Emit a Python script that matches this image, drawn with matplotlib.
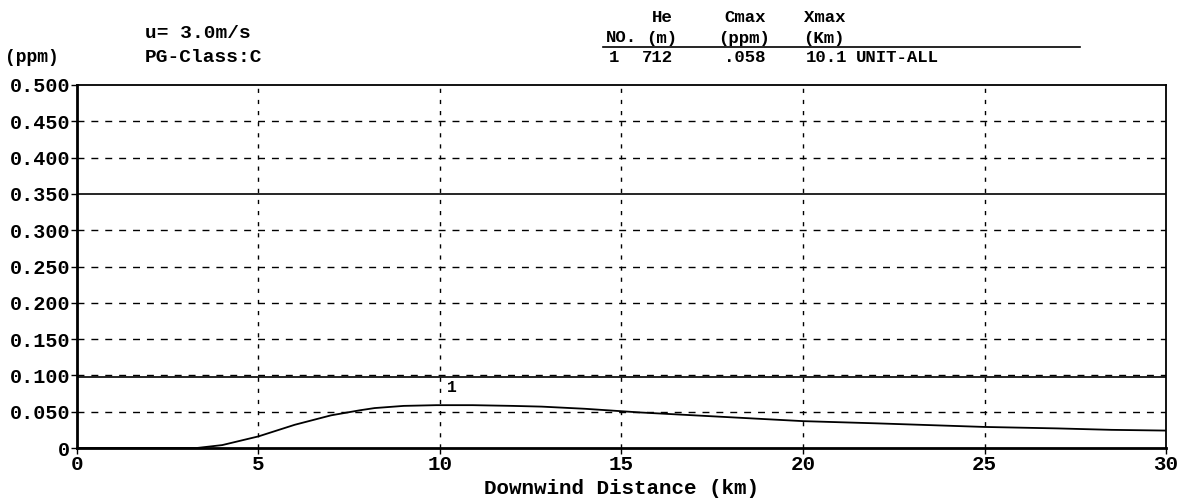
import matplotlib
matplotlib.use("Agg")
import matplotlib.pyplot as plt
import numpy as np

# Data
distance_km = [0, 1, 2, 3, 3.3, 4, 5, 6, 7, 7.8, 8.2, 9, 9.9, 10.9, 12, 12.8, 14, 14.9, 15.5, 17, 18.5, 20, 22, 23.8, 25, 27, 28.5, 30]
conc_ppm = [0, 0, 0, 0, 0, 0.004, 0.016, 0.032, 0.045, 0.052, 0.055, 0.058, 0.059, 0.059, 0.058, 0.057, 0.054, 0.051, 0.049, 0.045, 0.041, 0.037, 0.034, 0.031, 0.029, 0.027, 0.025, 0.024]
x_ticks = [0, 5, 10, 15, 20, 25, 30]
y_ticks = [0, 0.05, 0.10, 0.15, 0.20, 0.25, 0.30, 0.35, 0.40, 0.45, 0.50]
y_tick_labels = ["0", "0.050", "0.100", "0.150", "0.200", "0.250", "0.300", "0.350", "0.400", "0.450", "0.500"]
ref_lines = [0.35, 0.098]
table_headers_1 = ["He", "Cmax", "Xmax"]
table_headers_2 = ["NO.", "(m)", "(ppm)", "(Km)"]
table_row = ["1", "712", ".058", "10.1", "UNIT-ALL"]
peak_label = "1"
peak_x, peak_y = 10.2, 0.083

FONT = "Liberation Mono"

fig = plt.figure(figsize=(11.93, 5.0), dpi=100)
ax = fig.add_axes([0.0645, 0.104, 0.9129, 0.726])
ax.set_xlim(0, 30)
ax.set_ylim(0, 0.5)

# grid
for y in y_ticks[1:-1]:
    if abs(y - 0.35) < 1e-9:
        continue
    ax.axhline(y, color="black", lw=1.0, ls=(0, (5, 5)), zorder=1)
for x in x_ticks[1:-1]:
    ax.axvline(x, color="black", lw=1.0, ls=(0, (3, 5)), zorder=1)
for y in ref_lines:
    ax.axhline(y, color="black", lw=1.2, zorder=2)

ax.plot(distance_km, conc_ppm, color="black", lw=1.3, zorder=3)
ax.text(peak_x, peak_y, peak_label, fontfamily=FONT, fontweight="bold", fontsize=12, ha="left", va="center")

for s in ["left", "bottom"]:
    ax.spines[s].set_linewidth(2.0)
for s in ["top", "right"]:
    ax.spines[s].set_linewidth(1.3)

ax.set_xticks(x_ticks)
ax.set_xticklabels([str(v) for v in x_ticks], fontfamily=FONT, fontweight="bold", fontsize=15)
ax.set_yticks(y_ticks)
ax.set_yticklabels(y_tick_labels, fontfamily=FONT, fontweight="bold", fontsize=14.5)
ax.tick_params(axis="both", length=4, width=1, direction="out", pad=1)
ax.set_xlabel("Downwind Distance (km)", fontfamily=FONT, fontweight="bold", fontsize=15, labelpad=4)

# header texts (figure pixel coords)
def ftext(x, y, s, size=12, ha="left"):
    fig.text(x / 1193, 1 - y / 500, s, fontfamily=FONT, fontweight="bold", fontsize=size, ha=ha, va="center")

ftext(145, 33, "u= 3.0m/s", 14)
ftext(145, 58, "PG-Class:C", 14)
ftext(5, 57, "(ppm)", 13)

for s, cx in zip(table_headers_1, [662, 745, 825]):
    ftext(cx, 17, s, 12.5, ha="center")
ftext(606, 38, table_headers_2[0], 12.5)
for s, cx in zip(table_headers_2[1:], [662, 744, 824]):
    ftext(cx, 38, s, 12.5, ha="center")
fig.add_artist(plt.Line2D([603 / 1193, 1080 / 1193], [1 - 47 / 500, 1 - 47 / 500], color="black", lw=1.2))
ftext(614, 58, table_row[0], 12.5, ha="center")
ftext(642, 58, table_row[1], 12.5)
ftext(766, 58, table_row[2], 12.5, ha="right")
ftext(806, 58, table_row[3], 12.5)
ftext(856, 58, table_row[4], 12.5)

fig.savefig("out.png", dpi=100)
